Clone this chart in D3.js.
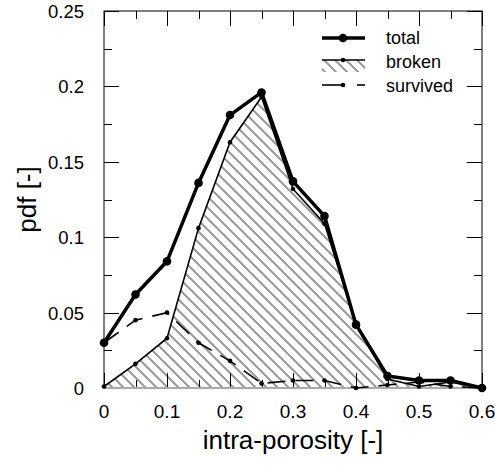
<!DOCTYPE html>
<html>
<head>
<meta charset="utf-8">
<script src="https://cdn.jsdelivr.net/npm/d3@7"></script>
<style>
  body { margin: 0; background: #fff; }
  text { font-family: "Liberation Sans", Arial, sans-serif; }
</style>
</head>
<body>
<svg width="495" height="466"></svg>
<script>
// data
const porosity = [0, 0.05, 0.1, 0.15, 0.2, 0.25, 0.3, 0.35, 0.4, 0.45, 0.5, 0.55, 0.6];
const total    = [0.030, 0.062, 0.084, 0.136, 0.181, 0.196, 0.137, 0.114, 0.042, 0.008, 0.005, 0.005, 0.0];
const broken   = [0.001, 0.016, 0.033, 0.106, 0.163, 0.193, 0.132, 0.109, 0.042, 0.006, 0.001, 0.004, 0.0];
const survived = [0.030, 0.045, 0.050, 0.030, 0.018, 0.003, 0.005, 0.005, 0.0, 0.002, 0.004, 0.001, 0.0];
const xTicks = [0, 0.1, 0.2, 0.3, 0.4, 0.5, 0.6];
const yTicks = [0, 0.05, 0.1, 0.15, 0.2, 0.25];
const legendLabels = ["total", "broken", "survived"];

const svg = d3.select("svg");
const pLeft = 104, pRight = 482, pTop = 11, pBottom = 388;

let x = d3.scaleLinear().domain([0, 0.6]).range([pLeft, pRight]);
let y = d3.scaleLinear().domain([0, 0.25]).range([pBottom, pTop]);

// hatch pattern
const defs = svg.append("defs");
const pat = defs.append("pattern")
  .attr("id", "hatch")
  .attr("patternUnits", "userSpaceOnUse")
  .attr("width", 11).attr("height", 11);
pat.append("path")
  .attr("d", "M-3,-3 L14,14 M-3,8 L3,14 M8,-3 L14,3")
  .attr("stroke", "#999").attr("stroke-width", 2);

// hatched area under broken
let area = d3.area()
  .x((d, i) => x(porosity[i]))
  .y0(y(0))
  .y1(d => y(d));
svg.append("path").datum(broken)
  .attr("d", area)
  .attr("fill", "url(#hatch)");

// frame with inward ticks
svg.append("rect")
  .attr("x", pLeft).attr("y", pTop)
  .attr("width", pRight - pLeft).attr("height", pBottom - pTop)
  .attr("fill", "none").attr("stroke", "#000").attr("stroke-width", 1);

const xMinor = d3.range(0, 13).map(i => i * 0.05);
const yMinor = d3.range(0, 11).map(i => i * 0.025);
const g = svg.append("g").attr("stroke", "#000").attr("stroke-width", 1);
xMinor.forEach((v, i) => {
  const len = i % 2 === 0 ? 15 : 8;
  const px = Math.round(x(v)) + 0.5;
  g.append("line").attr("x1", px).attr("x2", px).attr("y1", pBottom).attr("y2", pBottom - len);
  g.append("line").attr("x1", px).attr("x2", px).attr("y1", pTop).attr("y2", pTop + len);
});
yMinor.forEach((v, i) => {
  const len = i % 2 === 0 ? 15 : 8;
  const py = Math.round(y(v)) + 0.5;
  g.append("line").attr("x1", pLeft).attr("x2", pLeft + len).attr("y1", py).attr("y2", py);
  g.append("line").attr("x1", pRight).attr("x2", pRight - len).attr("y1", py).attr("y2", py);
});

// baseline of hatched area (grey)
svg.append("line")
  .attr("x1", x(0)).attr("x2", x(0.6)).attr("y1", y(0)).attr("y2", y(0))
  .attr("stroke", "#aaa").attr("stroke-width", 2);

// tick labels
svg.append("g").selectAll("text").data(xTicks).join("text")
  .attr("x", d => x(d)).attr("y", 418)
  .attr("text-anchor", "middle").attr("font-size", 19)
  .text(d => d3.format("")(d));
svg.append("g").selectAll("text").data(yTicks).join("text")
  .attr("x", 84).attr("y", d => y(d) + 7)
  .attr("text-anchor", "end").attr("font-size", 18.5)
  .text(d => d3.format("")(d));

// axis titles
svg.append("text").attr("x", x(0.3)).attr("y", 449)
  .attr("text-anchor", "middle").attr("font-size", 26)
  .text("intra-porosity [-]");
svg.append("text")
  .attr("transform", "translate(36," + y(0.125) + ") rotate(-90)")
  .attr("text-anchor", "middle").attr("font-size", 26)
  .text("pdf [-]");

let line = d3.line().x((d, i) => x(porosity[i])).y(d => y(d));

// survived
svg.append("path").datum(survived)
  .attr("d", line).attr("fill", "none")
  .attr("stroke", "#000").attr("stroke-width", 1.6)
  .attr("stroke-dasharray", "18,10");
svg.append("g").selectAll("circle").data(survived).join("circle")
  .attr("cx", (d, i) => x(porosity[i])).attr("cy", d => y(d)).attr("r", 2.3);

// broken
svg.append("path").datum(broken)
  .attr("d", line).attr("fill", "none")
  .attr("stroke", "#000").attr("stroke-width", 1.6);
svg.append("g").selectAll("circle").data(broken).join("circle")
  .attr("cx", (d, i) => x(porosity[i])).attr("cy", d => y(d)).attr("r", 2.3);

// total
svg.append("path").datum(total)
  .attr("d", line).attr("fill", "none")
  .attr("stroke", "#000").attr("stroke-width", 3.5)
  .attr("stroke-linejoin", "round");
svg.append("g").selectAll("circle").data(total).join("circle")
  .attr("cx", (d, i) => x(porosity[i])).attr("cy", d => y(d)).attr("r", 4.3);

// legend
const lg = svg.append("g");
const lx0 = 322, lx1 = 365, lmid = 343;
// total
lg.append("line").attr("x1", lx0).attr("x2", lx1).attr("y1", 38).attr("y2", 38)
  .attr("stroke", "#000").attr("stroke-width", 3.5);
lg.append("circle").attr("cx", lmid).attr("cy", 38).attr("r", 4.3);
// broken
lg.append("rect").attr("x", lx0).attr("y", 60).attr("width", lx1 - lx0).attr("height", 12)
  .attr("fill", "url(#hatch)");
lg.append("line").attr("x1", lx0).attr("x2", lx1).attr("y1", 60).attr("y2", 60)
  .attr("stroke", "#000").attr("stroke-width", 1.6);
lg.append("circle").attr("cx", lmid).attr("cy", 60).attr("r", 2.3);
// survived
lg.append("line").attr("x1", lx0).attr("x2", lmid).attr("y1", 85).attr("y2", 85)
  .attr("stroke", "#000").attr("stroke-width", 1.6);
lg.append("line").attr("x1", 357).attr("x2", 365).attr("y1", 85).attr("y2", 85)
  .attr("stroke", "#000").attr("stroke-width", 1.6);
lg.append("circle").attr("cx", lmid).attr("cy", 85).attr("r", 2.3);

lg.selectAll("text").data(legendLabels).join("text")
  .attr("x", 386).attr("y", (d, i) => [44, 68, 92][i])
  .attr("font-size", 18)
  .text(d => d);
</script>
</body>
</html>
